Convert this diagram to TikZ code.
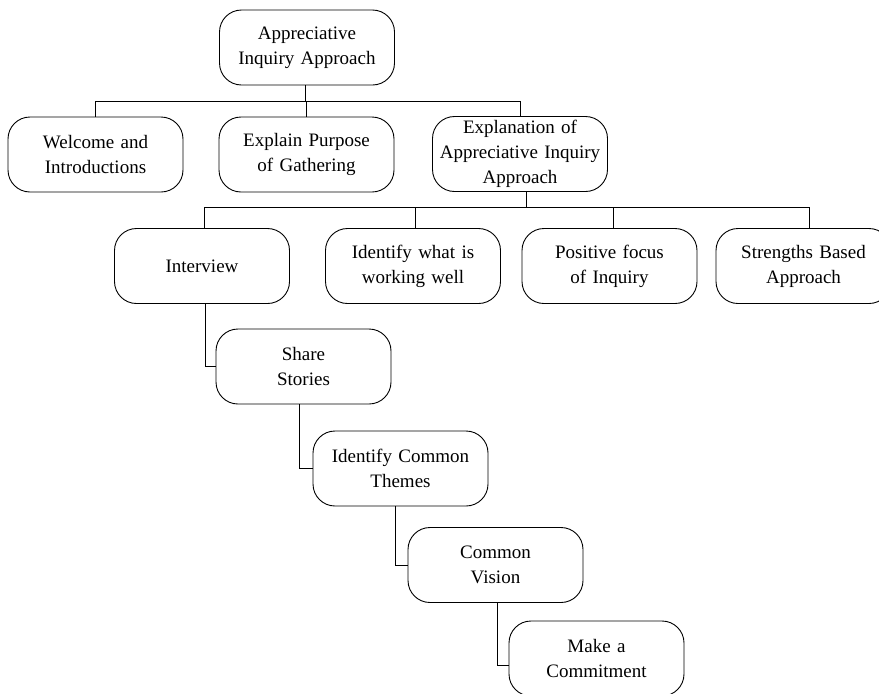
\documentclass[tikz,border=0pt]{standalone}
\usepackage{fontspec}
\setmainfont{Liberation Serif}
\begin{document}
\begin{tikzpicture}[x=1pt,y=-1pt,
  box/.style={draw=black, line width=0.9pt, rounded corners=22pt,
    minimum width=175pt, minimum height=75pt, text width=170pt,
    align=center, inner sep=0pt,
    font=\fontsize{19}{25}\selectfont},
  conn/.style={draw=black, line width=0.9pt}]
\useasboundingbox (0,0) rectangle (879,694);
\fill[white] (0,0) rectangle (879,694);
% nodes
\node[box] (root) at (307,47.5) {Appreciative\\Inquiry Approach};
\node[box] (welcome) at (95.5,154.5) {Welcome and\\Introductions};
\node[box] (purpose) at (306.5,154.5) {Explain Purpose\\of Gathering};
\node[box] (expl) at (520,154) {Explanation of\\Appreciative Inquiry\\Approach};
\node[box] (interview) at (202,266) {Interview};
\node[box] (identify) at (413,266) {Identify what is\\working well};
\node[box] (positive) at (609.5,266) {Positive focus\\of Inquiry};
\node[box] (strengths) at (803.5,266) {Strengths Based\\Approach};
\node[box] (share) at (303.5,366.5) {Share\\Stories};
\node[box] (themes) at (400.5,468.5) {Identify Common\\Themes};
\node[box] (vision) at (495.5,565) {Common\\Vision};
\node[box] (commit) at (596.5,658.5) {Make a\\Commitment};
% buses
\coordinate (b1) at (0,101);
\coordinate (b2) at (0,207);
\draw[conn] ([xshift=-2pt]root.south) -- ([xshift=-2pt]root.south |- b1);
\draw[conn] (welcome.north) |- (expl.north |- b1) -- (expl.north);
\draw[conn] (purpose.north) -- (purpose.north |- b1);
\coordinate (e2) at ([xshift=6pt]expl.south);
\draw[conn] (e2) -- (e2 |- b2);
\coordinate (s2) at ([xshift=5.5pt]strengths.north);
\draw[conn] ([xshift=2pt]interview.north) |- (s2 |- b2) -- (s2);
\draw[conn] ([xshift=2pt]identify.north) -- ([xshift=2pt]identify.north |- b2);
\draw[conn] ([xshift=3.5pt]positive.north) -- ([xshift=3.5pt]positive.north |- b2);
% chain
\draw[conn] ([xshift=3pt]interview.south) |- (share.west);
\draw[conn] ([xshift=-4.5pt]share.south) |- (themes.west);
\draw[conn] ([xshift=-5.5pt]themes.south) |- (vision.west);
\draw[conn] ([xshift=1.5pt]vision.south) |- ([yshift=-6.5pt]commit.west);
\end{tikzpicture}
\end{document}
